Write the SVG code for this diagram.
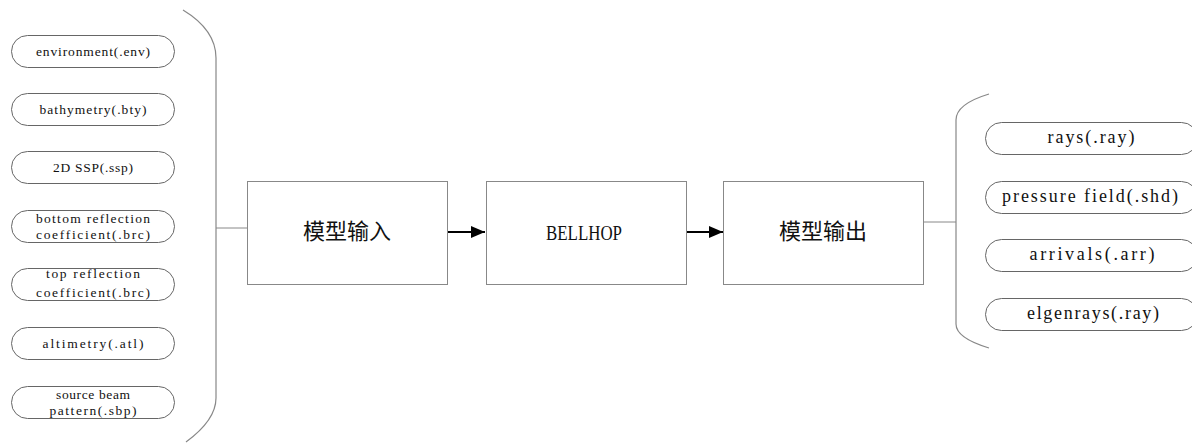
<svg xmlns="http://www.w3.org/2000/svg" width="1192" height="443" viewBox="0 0 1192 443">
<style>
.pill{fill:#fff;stroke:#666;stroke-width:1}
.box{fill:#fff;stroke:#888;stroke-width:1}
.brace{fill:none;stroke:#888;stroke-width:1.2}
.t1{font-family:"Liberation Serif",serif;font-size:13.5px;fill:#111;text-anchor:middle}
.t2{font-family:"Liberation Serif",serif;font-size:18px;fill:#111;text-anchor:middle}
.tc{font-family:"Noto Sans CJK SC",sans-serif;font-size:22px;fill:#111;text-anchor:middle}
.tb{font-family:"Liberation Serif",serif;font-size:21px;fill:#111;text-anchor:middle}
.arrow{stroke:#000;stroke-width:2;fill:none}
</style>
<defs>
<marker id="ah" markerWidth="14" markerHeight="12" refX="14" refY="6" orient="auto" markerUnits="userSpaceOnUse">
<path d="M0,0 L14,6 L0,12 Z" fill="#000"/>
</marker>
</defs>
<rect width="1192" height="443" fill="#fff"/>
<g id="connectors">
<path class="brace" d="M183,10 Q216,30 216,58 L216,398 Q216,420 186,442"/>
<line x1="216" y1="228" x2="247" y2="228" stroke="#888" stroke-width="1"/>
<line class="arrow" x1="447" y1="232" x2="485" y2="232" marker-end="url(#ah)"/>
<line class="arrow" x1="686" y1="232" x2="723" y2="232" marker-end="url(#ah)"/>
<line x1="924" y1="222" x2="956" y2="222" stroke="#888" stroke-width="1"/>
<path class="brace" d="M989,94 Q956,104 956,120 L956,324 Q956,338 989,348"/>
</g>
<g id="env"><rect class="pill" x="11.5" y="35.5" width="163" height="32" rx="16"/><text class="t1" x="93" y="55.5" textLength="114" lengthAdjust="spacing">environment(.env)</text></g>
<g id="bty"><rect class="pill" x="11.5" y="93.5" width="163" height="32" rx="16"/><text class="t1" x="93" y="113.5" textLength="107" lengthAdjust="spacing">bathymetry(.bty)</text></g>
<g id="ssp"><rect class="pill" x="11.5" y="151.5" width="163" height="32" rx="16"/><text class="t1" x="93" y="171.5" textLength="80" lengthAdjust="spacing">2D SSP(.ssp)</text></g>
<g id="brc1"><rect class="pill" x="11.5" y="210.5" width="163" height="32" rx="16"/><text class="t1" x="93" y="223" textLength="114" lengthAdjust="spacing">bottom reflection</text><text class="t1" x="93" y="238.5" textLength="114" lengthAdjust="spacing">coefficient(.brc)</text></g>
<g id="brc2"><rect class="pill" x="11.5" y="268.5" width="163" height="32" rx="16"/><text class="t1" x="93" y="278" textLength="94" lengthAdjust="spacing">top reflection</text><text class="t1" x="93" y="297" textLength="114" lengthAdjust="spacing">coefficient(.brc)</text></g>
<g id="atl"><rect class="pill" x="11.5" y="327.5" width="163" height="32" rx="16"/><text class="t1" x="93" y="347.5" textLength="101" lengthAdjust="spacing">altimetry(.atl)</text></g>
<g id="sbp"><rect class="pill" x="11.5" y="386.5" width="163" height="32" rx="16"/><text class="t1" x="93" y="399" textLength="74" lengthAdjust="spacing">source beam</text><text class="t1" x="93" y="414.5" textLength="87" lengthAdjust="spacing">pattern(.sbp)</text></g>
<g id="input"><rect class="box" x="247.5" y="181.5" width="200" height="103"/><text class="tc" x="347" y="239">模型输入</text></g>
<g id="bellhop"><rect class="box" x="486.5" y="181.5" width="200" height="103"/><text class="tb" x="584" y="240" textLength="76" lengthAdjust="spacingAndGlyphs">BELLHOP</text></g>
<g id="output"><rect class="box" x="723.5" y="181.5" width="200" height="103"/><text class="tc" x="823" y="239">模型输出</text></g>
<g id="ray"><rect class="pill" x="985.5" y="122.5" width="212" height="32" rx="16"/><text class="t2" x="1091" y="143" textLength="87" lengthAdjust="spacing">rays(.ray)</text></g>
<g id="shd"><rect class="pill" x="985.5" y="181.5" width="212" height="32" rx="16"/><text class="t2" x="1090" y="202" textLength="176" lengthAdjust="spacing">pressure field(.shd)</text></g>
<g id="arr"><rect class="pill" x="985.5" y="239.5" width="212" height="32" rx="16"/><text class="t2" x="1092" y="260" textLength="125" lengthAdjust="spacing">arrivals(.arr)</text></g>
<g id="eig"><rect class="pill" x="985.5" y="298.5" width="212" height="32" rx="16"/><text class="t2" x="1093" y="319" textLength="132" lengthAdjust="spacing">elgenrays(.ray)</text></g>
</svg>
